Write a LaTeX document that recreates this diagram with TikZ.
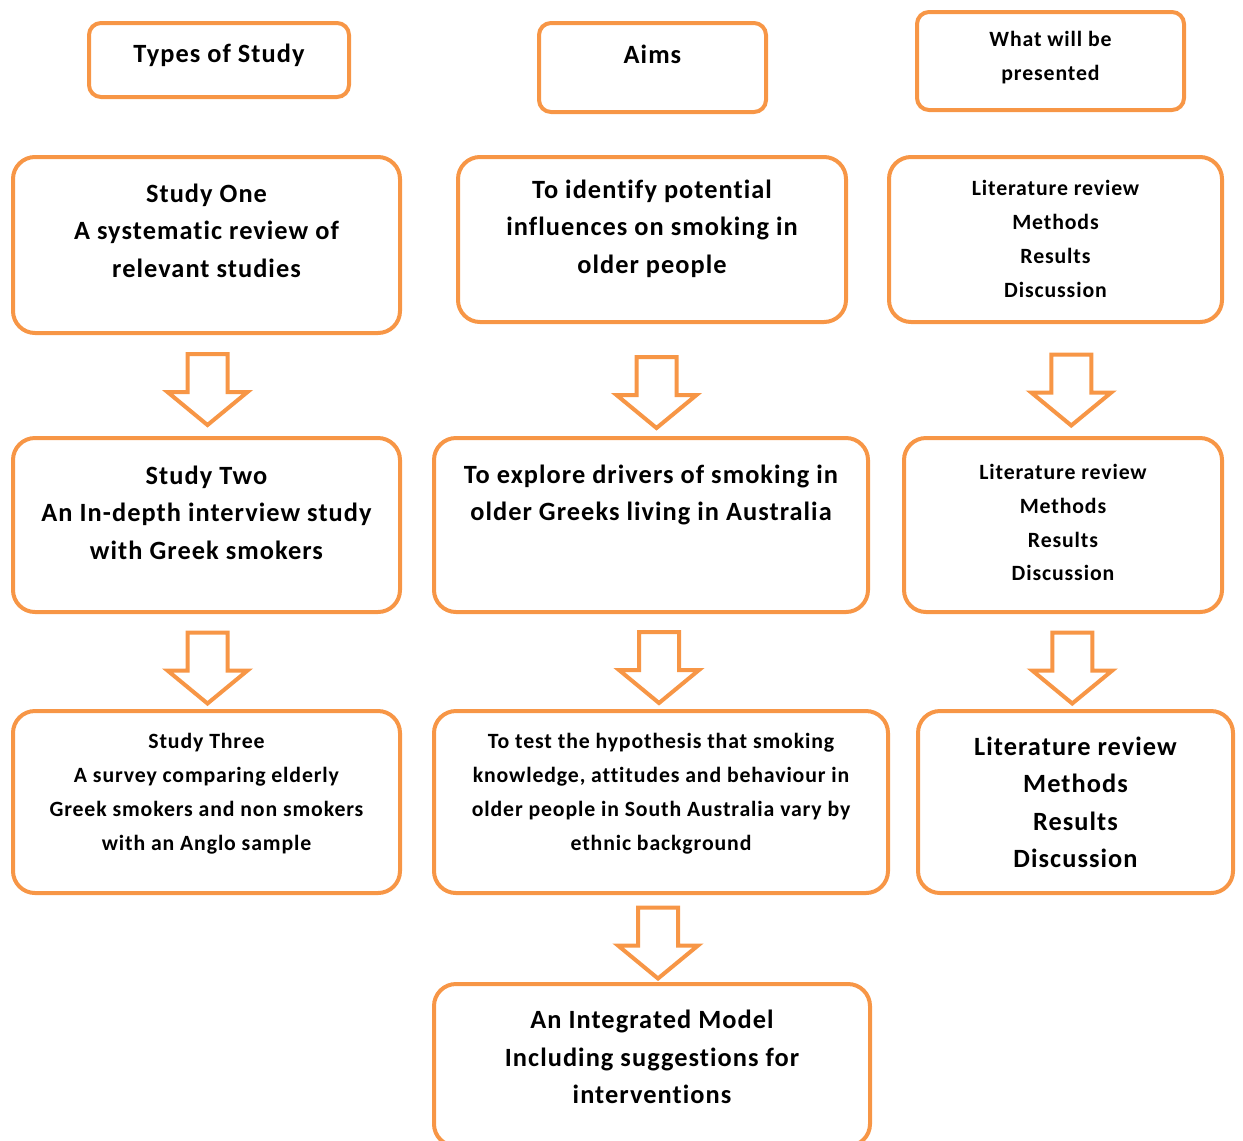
\documentclass[tikz,border=0pt]{standalone}
\usepackage{fontspec}
\setmainfont{Carlito}[LetterSpace=4,Ligatures=NoCommon]
\usetikzlibrary{positioning,fit,calc}
\definecolor{boxorange}{HTML}{F79646}
\newdimen\px \px=0.02cm

\begin{document}
\begin{tikzpicture}[x=0.02cm,y=-0.02cm,
  box/.style={draw=boxorange,line width=4\px,rounded corners=22\px,inner sep=0pt},
  headbox/.style={box,rounded corners=12\px},
  big/.style={font=\fontsize{15}{21.3}\selectfont\bfseries,align=center},
  small/.style={font=\fontsize{12.4}{19.3}\selectfont\bfseries,align=center},
  pics/downarr/.style={code={
    \draw[draw=boxorange,line width=4\px,fill=white,line join=miter]
      (-20,-35) -- (20,-35) -- (20,3) -- (40,3) -- (0,36) -- (-40,3) -- (-20,3) -- cycle;}},
]
  \useasboundingbox (0,0) rectangle (1243,1140);

  % column heads
  \foreach \n/\xa/\ya/\xb/\yb in {h1/89/23/349/97,h2/539/23/766/112,h3/917/12/1184/110}
    \node[headbox,fit={(\xa,\ya) (\xb,\yb)}] (\n) {};

  % boxes: s = studies, a = aims, p = presented, m = model
  \foreach \n/\xa/\ya/\xb/\yb in {s1/13/157/400/333,a1/458/157/846/322,p1/889/157/1222/322,
      s2/13/438/400/612,a2/434/438/868/612,p2/904/438/1222/612,
      s3/13/711/400/893,a3/434/711/888/893,p3/918/711/1233/893,
      m/434/984/870/1146}
    \node[box,fit={(\xa,\ya) (\xb,\yb)}] (\n) {};

  \node[big] (h1t) at (h1 |- 0,55) {Types of Study};
  \node[big] (h2t) at (h2 |- 0,54) {Aims};
  \node[small] (h3t) at (h3 |- 0,58) {What will be\\presented};

  \node[big] (s1t) at (s1 |- 0,230.5) {Study One\\A systematic review of\\relevant studies};
  \node[big] (a1t) at (a1 |- 0,228.5) {To identify potential\\influences on smoking in\\older people};
  \node[small] (p1t) at (p1 |- 0,239) {Literature review\\Methods\\Results\\Discussion};

  \node[big] (s2t) at (s2 |- 0,512.5) {Study Two\\An In-depth interview study\\with Greek smokers};
  \node[big] (a2t) at (a2 |- 0,495) {To explore drivers of smoking in\\older Greeks living in Australia};
  \node[small] (p2t) at (p2 |- 0,522.5) {Literature review\\Methods\\Results\\Discussion};

  \node[small] (s3t) at (s3 |- 0,794) {Study Three\\A survey comparing elderly\\Greek smokers and non smokers\\with an Anglo sample};
  \node[small] (a3t) at (a3 |- 0,794) {To test the hypothesis that smoking\\knowledge, attitudes and behaviour in\\older people in South Australia vary by\\ethnic background};
  \node[big] (p3t) at (p3 |- 0,802.5) {Literature review\\Methods\\Results\\Discussion};

  \node[big] (mt) at (m |- 0,1057) {An Integrated Model\\Including suggestions for\\interventions};

  % arrows between rows
  \pic at ($(s1.south)!.5!(s2.north)+(1,3.5)$) {downarr};
  \pic at ($(a1.south)!.5!(a2.north)+(5,12)$) {downarr};
  \pic at ($(p1.south)!.5!(p2.north)+(12,9.5)$) {downarr};
  \pic at ($(s2.south)!.5!(s3.north)+(1,6)$) {downarr};
  \pic at ($(a2.south)!.5!(a3.north)+(3,5.5)$) {downarr};
  \pic at ($(p2.south)!.5!(p3.north)+(3,6)$) {downarr};
  \pic at ($(a3.south)!.5!(m.north)+(1.5,4)$) {downarr};
\end{tikzpicture}
\end{document}
